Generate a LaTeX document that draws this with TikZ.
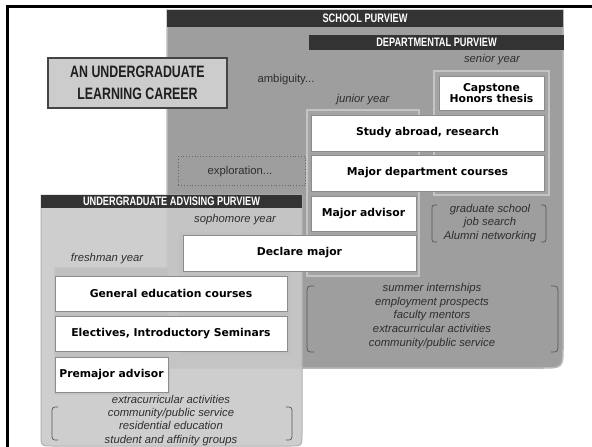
\documentclass[tikz,border=0pt]{standalone}
\usepackage{fontspec}
\setmainfont{Liberation Sans}
\newfontfamily\vb{DejaVu Sans}
\newfontfamily\cond{Liberation Sans}[FakeStretch=0.75]
\definecolor{schoolgray}{HTML}{9E9E9E}
\definecolor{schooledge}{HTML}{B8B8B8}
\definecolor{barcol}{HTML}{333333}
\definecolor{advfill}{HTML}{C9C9C9}
\definecolor{advedge}{HTML}{B2B2B2}
\definecolor{txtgray}{HTML}{2E2E2E}
\definecolor{boxedge}{HTML}{8C8C8C}
\definecolor{coldark}{HTML}{A4A4A4}
\definecolor{collight}{HTML}{C0C0C0}
\definecolor{colband}{HTML}{C4C4C4}
\definecolor{coledge}{HTML}{888888}
\definecolor{titlefill}{HTML}{CCCCCC}
\definecolor{titleedge}{HTML}{444444}
\definecolor{brk}{HTML}{555555}
\begin{document}
\begin{tikzpicture}[x=1pt,y=-1pt,
  barbox/.style={fill=barcol, text=white, inner sep=0pt, outer sep=0pt,
    font=\cond\bfseries\fontsize{12.3}{13}\selectfont},
  whitebox/.style={draw=boxedge, fill=white, line width=0.9pt, inner sep=0pt,
    outer sep=0pt, anchor=north west, align=center,
    font=\vb\bfseries\fontsize{10.8}{13}\selectfont},
  colbox/.style={draw=coledge, double=colband, double distance=1.1pt,
    line width=0.45pt, inner sep=0pt, outer sep=0pt, anchor=north west},
  yearlbl/.style={font=\itshape\fontsize{11.3}{13}\selectfont, text=txtgray, inner sep=0pt},
  plainlbl/.style={font=\fontsize{11.3}{13}\selectfont, text=txtgray, inner sep=0pt},
  listlbl/.style={font=\itshape\fontsize{11.3}{13.6}\selectfont, text=txtgray,
    align=center, inner sep=0pt},
  brkline/.style={draw=brk, line width=0.7pt}
]
\useasboundingbox (0,0) rectangle (592,447);
\fill[white] (0,0) rectangle (592,447);
\begin{scope}
\clip (0,0) rectangle (592,447);
% outer frame
\draw[line width=3pt] (7.5,6.5) rectangle (640,480);

% school region
\draw[fill=schoolgray, draw=schooledge, line width=1.5pt]
  (167,10) -- (563,10) -- (563,346) .. controls (563,368) .. (541,368) -- (167,368) -- cycle;
\node[barbox, minimum width=396pt, minimum height=17pt] (schoolbar) at (365,18.5) {SCHOOL PURVIEW};
\node[barbox, minimum width=255pt, minimum height=15pt] (deptbar) at (436.5,42.5) {DEPARTMENTAL PURVIEW};

% title
\node[draw=titleedge, fill=titlefill, line width=1.6pt, minimum width=179pt, minimum height=50pt,
  inner sep=0pt, align=center, text=black!88,
  font=\cond\bfseries\fontsize{16.5}{21.5}\selectfont] (title) at (137.5,83) {AN UNDERGRADUATE\\LEARNING CAREER};

\node[plainlbl] (ambig) at (286,80) {ambiguity...};
\node[yearlbl] (senior) at (492,60) {senior year};
\node[yearlbl] (junior) at (363,100) {junior year};

% senior / junior columns
\node[colbox, fill=coldark, minimum width=115pt, minimum height=124pt] (seniorcol) at (434,71) {};
\node[whitebox, minimum width=105pt, minimum height=34pt] (capstone) at (439,76) {Capstone\\[-1.5pt]Honors thesis};
\node[colbox, fill=coldark, minimum width=112pt, minimum height=166pt] (juniorcol) at (307,110) {};

% exploration
\node[draw=black!60, dotted, line width=0.8pt, minimum width=127pt, minimum height=29pt,
  inner sep=0pt, anchor=north west] (explbox) at (178,156) {};
\node[plainlbl] (expl) at (240,172) {exploration...};

\node[whitebox, minimum width=233pt, minimum height=36pt] (study) at (311,115) {Study abroad, research};
\node[whitebox, minimum width=233pt, minimum height=36pt] (majdept) at (311,155) {Major department courses};
\node[whitebox, minimum width=105pt, minimum height=35pt] (majadv) at (311,196) {Major advisor};

% right brackets
\node[listlbl] (gradlist) at (490,223) {graduate school\\job search\\Alumni networking};
\draw[brkline] (437,205) .. controls (432,205) .. (432,211) -- (432,236) .. controls (432,242) .. (437,242);
\draw[brkline] (541,205) .. controls (546,205) .. (546,211) -- (546,236) .. controls (546,242) .. (541,242);

\node[listlbl] (sumlist) at (432,316) {summer internships\\employment prospects\\faculty mentors\\extracurricular activities\\community/public service};
\draw[brkline] (314,286) .. controls (307,286) .. (307,294) -- (307,344) .. controls (307,352) .. (314,352);
\draw[brkline] (551,286) .. controls (558,286) .. (558,294) -- (558,344) .. controls (558,352) .. (551,352);

% advising region
\draw[fill=advfill, fill opacity=0.9, draw=advedge, line width=1pt]
  (41,195) -- (302,195) -- (302,434) .. controls (302,446) .. (290,446) -- (53,446) .. controls (41,446) .. (41,434) -- cycle;
\node[barbox, minimum width=261pt, minimum height=13pt] (advbar) at (171.5,201.5) {UNDERGRADUATE ADVISING PURVIEW};

\node[yearlbl] (soph) at (235,220) {sophomore year};
\node[yearlbl] (fresh) at (107,259) {freshman year};

\node[colbox, fill=collight, minimum width=114pt, minimum height=125pt] (sophcol) at (178,231) {};
\node[colbox, fill=collight, minimum width=114pt, minimum height=126pt] (freshcol) at (55,268) {};

\node[whitebox, minimum width=233pt, minimum height=36pt] (declare) at (183,235) {Declare major};
\node[whitebox, minimum width=232pt, minimum height=35pt] (gened) at (55,276) {General education courses};
\node[whitebox, minimum width=232pt, minimum height=35pt] (elect) at (55,316) {Electives, Introductory Seminars};
\node[whitebox, minimum width=113pt, minimum height=35pt] (premaj) at (55,357) {Premajor advisor};

\node[listlbl, font=\itshape\fontsize{11.3}{13.1}\selectfont] (extlist) at (171,420.5) {extracurricular activities\\community/public service\\residential education\\student and affinity groups};
\draw[brkline] (58,407) .. controls (52,407) .. (52,414) -- (52,433) .. controls (52,440) .. (58,440);
\draw[brkline] (286,407) .. controls (292,407) .. (292,414) -- (292,433) .. controls (292,440) .. (286,440);
\end{scope}
\end{tikzpicture}
\end{document}
